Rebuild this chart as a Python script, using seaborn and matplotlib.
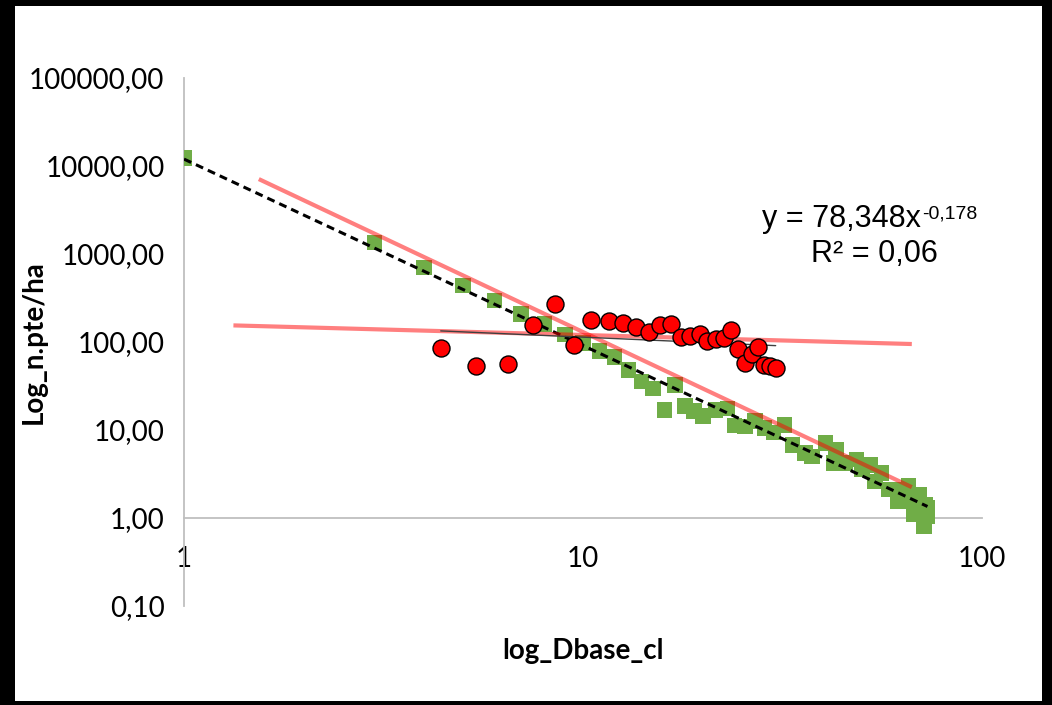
import numpy as np
import pandas as pd
import matplotlib
matplotlib.use("Agg")
import matplotlib.pyplot as plt
import seaborn as sns
from matplotlib.patches import Rectangle
from matplotlib.ticker import FixedLocator, FixedFormatter, NullLocator

# ---------------- data ----------------
green_x = [1, 3, 4, 5, 6, 7, 8, 9, 10, 11, 12, 13, 14, 15, 16, 17, 18, 19, 20, 21.5,
           23, 24, 25.5, 27, 28.5, 30, 32, 33.5, 36, 37.5, 40.5, 42.5, 43, 45.5, 48.5,
           50, 52.5, 54, 56, 58.5, 61, 61.5, 65.5, 66.5, 67.5, 69.5, 71.5, 72, 73, 73]
green_y = [12300, 1350, 706, 441, 298, 209, 161, 122, 98, 79, 68, 48, 35.5, 29.7, 16.9,
           32.4, 18.8, 16.5, 14.5, 16.9, 17.6, 11.2, 10.9, 12.7, 10.5, 9.4, 11.4, 6.8,
           5.5, 5.0, 7.1, 4.2, 6.0, 4.2, 4.6, 3.55, 4.0, 2.6, 3.25, 2.1, 2.1, 1.56, 2.3,
           1.56, 1.1, 1.85, 0.81, 1.43, 1.31, 1.05]

red_x = [4.4, 5.4, 6.5, 7.5, 8.5, 9.5, 10.5, 11.6, 12.6, 13.6, 14.6, 15.6, 16.6, 17.6,
         18.5, 19.7, 20.5, 21.5, 22.6, 23.5, 24.5, 25.5, 26.5, 27.5, 28.5, 29.4, 30.4]
red_y = [85.5, 53, 56, 157, 267, 93, 176, 171, 164, 148, 130, 154, 161, 114, 117, 124,
         102, 109, 111, 136, 83, 58, 74, 88, 54.5, 53, 50]

# extra power-law trend lines shown in the chart: y = a * x**b over [x_start, x_end]
steep_trend = [17880, -2.139, 1.54, 66.7]
flat_trend = [160, -0.1245, 1.33, 66.7]

y_ticks = [0.1, 1, 10, 100, 1000, 10000, 100000]
y_tick_labels = ["0,10", "1,00", "10,00", "100,00", "1000,00", "10000,00", "100000,00"]
x_ticks = [1, 10, 100]
x_tick_labels = ["1", "10", "100"]

eq_main = "y = 78,348x"
eq_exp = "-0,178"
r2_text = "R² = 0,06"
x_title = "log_Dbase_cl"
y_title = "Log_n.pte/ha"

# ---------------- style ----------------
sns.set_theme(style="white")
plt.rcParams['font.family'] = ['Lato', 'DejaVu Sans']

W, H = 1052, 705
fig = plt.figure(figsize=(W / 100, H / 100), dpi=100, facecolor="black")
fig.add_artist(Rectangle((15 / W, 4 / H), (1042 - 15) / W, (699 - 4) / H,
                         transform=fig.transFigure, facecolor="white",
                         edgecolor="none", zorder=-10))
ax = fig.add_axes([184 / W, (H - 606) / H, (982 - 184) / W, (606 - 78) / H])
ax.set_facecolor("white")

ax.set_xscale("log")
ax.set_yscale("log")

gdf = pd.DataFrame({"x": green_x, "y": green_y})
rdf = pd.DataFrame({"x": red_x, "y": red_y})

sns.scatterplot(data=gdf, x="x", y="y", marker="s", s=125, color="#70AD47",
                edgecolor="none", linewidth=0, ax=ax, zorder=2)

# power fit of the green series (dashed)
gb, ga = np.polyfit(np.log10(green_x), np.log10(green_y), 1)
gx = np.logspace(np.log10(min(green_x)), np.log10(max(green_x)), 100)
ax.plot(gx, 10 ** ga * gx ** gb, color="black", lw=2.2, dashes=(2.6, 1.7), zorder=3)

for a, b, x0, x1 in (steep_trend, flat_trend):
    tx = np.logspace(np.log10(x0), np.log10(x1), 100)
    ax.plot(tx, a * tx ** b, color="red", alpha=0.5, lw=3, solid_capstyle="butt", zorder=4)

# power fit of the red series (thin line)
rb, ra = np.polyfit(np.log10(red_x), np.log10(red_y), 1)
rx = np.logspace(np.log10(min(red_x)), np.log10(max(red_x)), 100)
ax.plot(rx, 10 ** ra * rx ** rb, color="#404040", lw=1.0, zorder=4.5)

sns.scatterplot(data=rdf, x="x", y="y", marker="o", s=150, color="#FF0000",
                edgecolor="black", linewidth=1.0, ax=ax, zorder=5)

ax.set_xlim(1, 100)
ax.set_ylim(0.1, 100000)

ax.xaxis.set_major_locator(FixedLocator(x_ticks))
ax.xaxis.set_major_formatter(FixedFormatter(x_tick_labels))
ax.yaxis.set_major_locator(FixedLocator(y_ticks))
ax.yaxis.set_major_formatter(FixedFormatter(y_tick_labels))
ax.xaxis.set_minor_locator(NullLocator())
ax.yaxis.set_minor_locator(NullLocator())
ax.grid(False)

for s in ("top", "right"):
    ax.spines[s].set_visible(False)
ax.spines["bottom"].set_position(("data", 1))
for s in ("bottom", "left"):
    ax.spines[s].set_color("#BFBFBF")
    ax.spines[s].set_linewidth(1.3)
    ax.spines[s].set_zorder(1)

ax.tick_params(axis="x", length=0, pad=20, labelsize=20, colors="black")
ax.tick_params(axis="y", length=0, pad=14, labelsize=20, colors="black")

ax.set_xlabel(x_title, fontsize=20, fontweight="bold", color="black")
ax.set_ylabel(y_title, fontsize=20, fontweight="bold", color="black")
ax.xaxis.set_label_coords(0.5, -0.06)
ax.yaxis.set_label_coords(-0.172, 0.5)

t1 = ax.text(0.724, 0.718, eq_main, transform=ax.transAxes, ha="left", va="baseline",
             fontsize=22, family="Liberation Sans", color="black")
ax.annotate(eq_exp, xy=(1.0, 1.0), xycoords=t1, xytext=(1, -1), textcoords="offset points",
            ha="left", va="top", fontsize=14, family="Liberation Sans", color="black")
ax.text(0.865, 0.652, r2_text, transform=ax.transAxes, ha="center", va="baseline",
        fontsize=22, family="Liberation Sans", color="black")

fig.savefig("out.png", dpi=100, facecolor=fig.get_facecolor())
